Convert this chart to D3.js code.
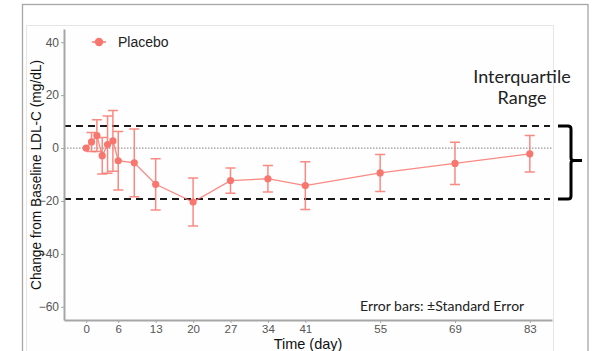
<!DOCTYPE html>
<html>
<head>
<meta charset="utf-8">
<script src="https://cdn.jsdelivr.net/npm/d3@7"></script>
<style>
  body { margin: 0; background: #fff; }
  svg { display: block; }
</style>
</head>
<body>
<div id="chart"></div>
<script>
// données
const days = [0, 1, 2, 3, 4, 5, 6, 9, 13, 20, 27, 34, 41, 55, 69, 83];
const means = [0, 2.3, 4.7, -2.9, 1.3, 2.7, -4.8, -5.6, -13.7, -20.4, -12.3, -11.6, -14.2, -9.4, -5.8, -2.2];
const se = [0, 3.6, 6.0, 6.9, 10.8, 11.5, 11.1, 12.8, 9.7, 9.1, 4.8, 5.0, 9.0, 7.0, 8.0, 6.9];
const xTicks = [0, 6, 13, 20, 27, 34, 41, 55, 69, 83];
const yTicks = [-60, -40, -20, 0, 20, 40];
const iqrUpper = 8.3;
const iqrLower = -19.3;

const data = days.map((d, i) => ({ day: d, mean: means[i], se: se[i] }));

const width = 593;
const height = 351;
const col = "#F8766D";

const svg = d3.select("#chart")
    .append("svg")
    .attr("width", width)
    .attr("height", height);

// cadre extérieur
svg.append("rect")
    .attr("x", 22.5).attr("y", 4.5)
    .attr("width", 565.5).attr("height", 360)
    .attr("fill", "none")
    .attr("stroke", "#a6a6a6")
    .attr("stroke-width", 1.3);

svg.append("rect")
    .attr("x", 26.5).attr("y", 25.5)
    .attr("width", 527).attr("height", 340)
    .attr("fill", "#fefefe")
    .attr("stroke", "#e6e6e6")
    .attr("stroke-width", 1);

// échelles
const x = d3.scaleLinear().domain([-4.15, 87.15]).range([64, 552]);
const y = d3.scaleLinear().domain([-65, 45]).range([320, 29]);

// ligne zéro pointillée
svg.append("line")
    .attr("x1", x.range()[0]).attr("x2", x.range()[1])
    .attr("y1", y(0)).attr("y2", y(0))
    .attr("stroke", "#9a9a9a")
    .attr("stroke-width", 1.2)
    .attr("stroke-dasharray", "1.5,1.5");

// lignes de l'intervalle interquartile
[iqrUpper, iqrLower].forEach(v => {
    svg.append("line")
        .attr("x1", x.range()[0]).attr("x2", 550)
        .attr("y1", y(v)).attr("y2", y(v))
        .attr("stroke", "#1a1a1a")
        .attr("stroke-width", 2)
        .attr("stroke-dasharray", "7,5");
});

// axes
const axisFont = "'Liberation Sans', Arial, sans-serif";

svg.append("g")
    .attr("transform", `translate(${x.range()[0]},0)`)
    .call(d3.axisLeft(y).tickValues(yTicks).tickSize(3).tickSizeOuter(0).tickPadding(2))
    .call(g => g.select(".domain").attr("stroke", "#a6a6a6").attr("stroke-width", 2))
    .call(g => g.selectAll(".tick line").attr("stroke", "#a6a6a6"))
    .call(g => g.selectAll("text")
        .attr("fill", "#555")
        .attr("font-family", axisFont)
        .attr("font-size", "12px"));

svg.append("g")
    .attr("transform", `translate(0,${y.range()[0]})`)
    .call(d3.axisBottom(x).tickValues(xTicks).tickSize(3).tickSizeOuter(0).tickPadding(2))
    .call(g => g.select(".domain").attr("stroke", "#a6a6a6").attr("stroke-width", 2))
    .call(g => g.selectAll(".tick line").attr("stroke", "#a6a6a6"))
    .call(g => g.selectAll("text")
        .attr("fill", "#555")
        .attr("font-family", axisFont)
        .attr("font-size", "11.5px"));

// titres des axes
svg.append("text")
    .attr("transform", `translate(41,${(60 + 290) / 2}) rotate(-90)`)
    .attr("text-anchor", "middle")
    .attr("font-family", axisFont)
    .attr("font-size", "14px")
    .attr("fill", "#111")
    .attr("textLength", 230)
    .attr("lengthAdjust", "spacingAndGlyphs")
    .text("Change from Baseline LDL-C (mg/dL)");

svg.append("text")
    .attr("x", 308).attr("y", 349)
    .attr("text-anchor", "middle")
    .attr("font-family", axisFont)
    .attr("font-size", "14.5px")
    .attr("fill", "#111")
    .text("Time (day)");

// barres d'erreur
const cap = 5;
const err = svg.append("g")
    .attr("stroke", col)
    .attr("stroke-opacity", 0.85)
    .attr("stroke-width", 1.5)
    .attr("fill", "none");

data.filter(d => d.se > 0).forEach(d => {
    const px = x(d.day);
    err.append("path")
        .attr("d", `M${px - cap},${y(d.mean + d.se)}H${px + cap}` +
            `M${px},${y(d.mean + d.se)}V${y(d.mean - d.se)}` +
            `M${px - cap},${y(d.mean - d.se)}H${px + cap}`);
});

// ligne
svg.append("path")
    .attr("d", d3.line().x(d => x(d.day)).y(d => y(d.mean))(data))
    .attr("fill", "none")
    .attr("stroke", col)
    .attr("stroke-opacity", 0.85)
    .attr("stroke-width", 1.3);

// points
svg.append("g")
    .selectAll("circle")
    .data(data)
    .join("circle")
    .attr("cx", d => x(d.day))
    .attr("cy", d => y(d.mean))
    .attr("r", 3.6)
    .attr("fill", col);

// légende
const legend = svg.append("g").attr("transform", "translate(99,42)");
legend.append("line")
    .attr("x1", -7).attr("x2", 7)
    .attr("stroke", col).attr("stroke-width", 1.5);
legend.append("circle").attr("r", 4.2).attr("fill", col);
legend.append("text")
    .attr("x", 19).attr("y", 5)
    .attr("font-family", axisFont)
    .attr("font-size", "14px")
    .attr("fill", "#222")
    .text("Placebo");

// accolade + annotation
svg.append("path")
    .attr("d", `M558,${y(iqrUpper)}H568Q571,${y(iqrUpper)} 571,${y(iqrUpper) + 3}V158Q571,160.5 574,160.5H582` +
        `M574,160.5Q571,160.5 571,163V${y(iqrLower) - 3}Q571,${y(iqrLower)} 568,${y(iqrLower)}H558`)
    .attr("fill", "none")
    .attr("stroke", "#000")
    .attr("stroke-width", 3);

const annoFont = "Lato, 'Open Sans', sans-serif";
svg.append("text")
    .attr("x", 522).attr("y", 83)
    .attr("text-anchor", "middle")
    .attr("font-family", annoFont)
    .attr("font-size", "18px")
    .attr("fill", "#222")
    .text("Interquartile");
svg.append("text")
    .attr("x", 522).attr("y", 104)
    .attr("text-anchor", "middle")
    .attr("font-family", annoFont)
    .attr("font-size", "18px")
    .attr("fill", "#222")
    .text("Range");

svg.append("text")
    .attr("x", 360).attr("y", 311)
    .attr("font-family", annoFont)
    .attr("font-size", "14px")
    .attr("fill", "#222")
    .text("Error bars: ±Standard Error");
</script>
</body>
</html>
